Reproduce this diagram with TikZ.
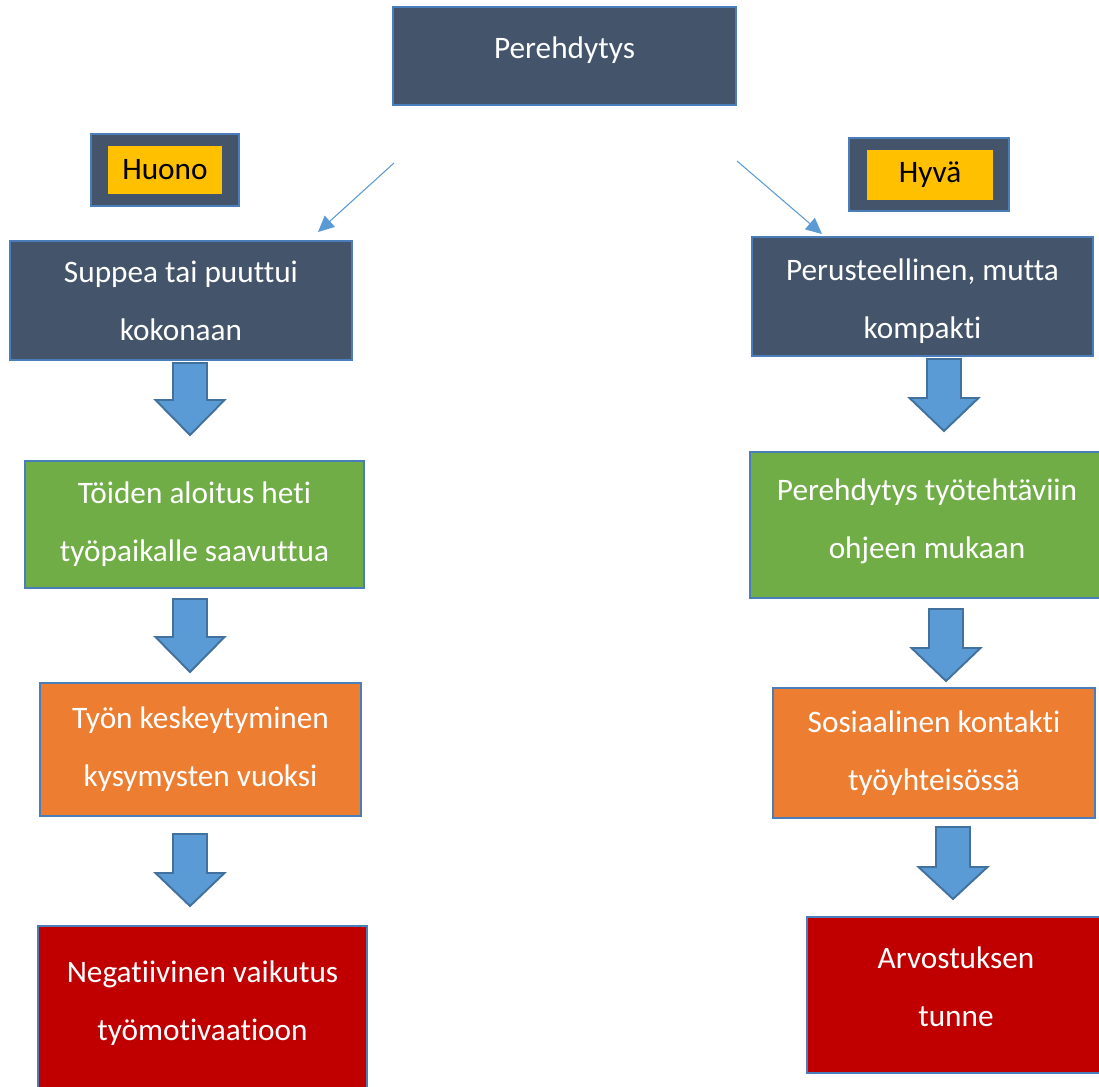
\documentclass[tikz,border=0pt]{standalone}
\usepackage{fontspec}
\setmainfont{Carlito}[Ligatures={NoCommon}]
\usepackage{xcolor}
\usepackage{tikz}
\usetikzlibrary{arrows.meta}

\definecolor{darkslate}{HTML}{44546A}
\definecolor{edgeblue}{HTML}{4A7EBB}
\definecolor{arrowblue}{HTML}{5B9BD5}
\definecolor{arrowedge}{HTML}{41719C}
\definecolor{goldbox}{HTML}{FFC000}
\definecolor{greenbox}{HTML}{70AD47}
\definecolor{orangebox}{HTML}{ED7D31}
\definecolor{redbox}{HTML}{C00000}

\tikzset{
    boxtext/.style={inner sep=0pt, align=center, text=white, font=\fontsize{17.8}{33}\selectfont},
    box/.style={boxtext, draw=edgeblue, line width=1.1pt, rectangle},
    tag/.style={rectangle, inner sep=0pt, fill=goldbox, text=black,
        font=\fontsize{17.8}{21}\selectfont},
    thinarrow/.style={draw=arrowblue, line width=0.6pt, -{Triangle[length=0.32cm,width=0.3cm]}},
    blockarrow/.style={fill=arrowblue, draw=arrowedge, line width=1.1pt, line join=miter}
}

\begin{document}
\begin{tikzpicture}[x=0.02cm, y=-0.02cm]
    \useasboundingbox[fill=white] (0,0) rectangle (1099,1086);

    % top
    \node[box, fill=darkslate, minimum width=6.86cm, minimum height=1.96cm,
        label={[boxtext, yshift=0.12cm]center:Perehdytys}] (pere) at (564.5,56) {};

    % labels
    \node[box, fill=darkslate, minimum width=2.96cm, minimum height=1.44cm] (huonobg) at (165,170) {};
    \node[tag, minimum width=2.28cm, minimum height=0.96cm] (huono) at (165,170) {Huono};
    \node[box, fill=darkslate, minimum width=3.2cm, minimum height=1.46cm] (hyvabg) at (929,174.5) {};
    \node[tag, minimum width=2.52cm, minimum height=1.0cm] (hyva) at (930,175) {Hyvä};

    % left column
    \node[box, fill=darkslate, minimum width=6.84cm, minimum height=2.38cm] (suppea) at (181,300.5) {Suppea tai puuttui\\kokonaan};
    \node[box, fill=greenbox, minimum width=6.78cm, minimum height=2.54cm] (toiden) at (194.5,524.5) {Töiden aloitus heti\\työpaikalle saavuttua};
    \node[box, fill=orangebox, minimum width=6.42cm, minimum height=2.66cm] (tyon) at (200.5,749.5) {Työn keskeytyminen\\kysymysten vuoksi};
    \node[box, fill=redbox, minimum width=6.58cm, minimum height=3.28cm,
        label={[boxtext, yshift=0.1cm]center:Negatiivinen vaikutus\\työmotivaatioon}] (negat) at (202.5,1008) {};

    % right column
    \node[box, fill=darkslate, minimum width=6.82cm, minimum height=2.38cm,
        label={[boxtext, yshift=-0.1cm]center:Perusteellinen, mutta\\kompakti}] (perus) at (922.5,296.5) {};
    \node[box, fill=greenbox, minimum width=7.08cm, minimum height=2.92cm,
        label={[boxtext, yshift=0.08cm]center:Perehdytys työtehtäviin\\ohjeen mukaan}] (ohje) at (927,525) {};
    \node[box, fill=orangebox, minimum width=6.44cm, minimum height=2.6cm] (sosiaal) at (934,753) {Sosiaalinen kontakti\\työyhteisössä};
    \node[box, fill=redbox, minimum width=5.96cm, minimum height=3.12cm,
        label={[boxtext, yshift=0.16cm]center:Arvostuksen\\tunne}] (arvost) at (956,995) {};

    % thin arrows
    \coordinate (leftstart) at (394,163);
    \coordinate (leftend) at (318,232);
    \coordinate (rightstart) at (737,161);
    \coordinate (rightend) at (822,234);
    \draw[thinarrow] (leftstart) -- (leftend);
    \draw[thinarrow] (rightstart) -- (rightend);

    % block arrows
    \foreach \cx/\ya/\yb/\yc in {190/363/400/435, 190/599/637/672, 190/834/873/906,
        944/359/398/431, 946/609/648/681, 953/827/867/899}
        \draw[blockarrow] (\cx-17,\ya) -- (\cx+17,\ya) -- (\cx+17,\yb) -- (\cx+34.5,\yb)
            -- (\cx,\yc) -- (\cx-34.5,\yb) -- (\cx-17,\yb) -- cycle;
\end{tikzpicture}
\end{document}
